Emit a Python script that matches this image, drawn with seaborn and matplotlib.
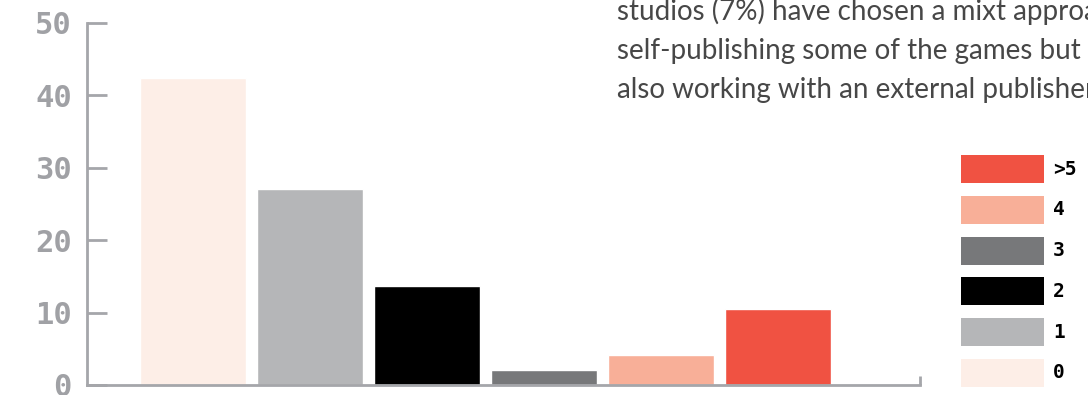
import matplotlib
matplotlib.use("Agg")
import matplotlib.pyplot as plt
import seaborn as sns
import pandas as pd
from matplotlib.patches import Rectangle

categories = ["0", "1", "2", "3", "4", ">5"]
values = [42.4, 27.1, 13.7, 2.1, 4.1, 10.5]
colors = ["#fdeee7", "#b5b6b8", "#000000", "#77787a", "#f8af98", "#f05242"]
yticks = [0, 10, 20, 30, 40, 50]
note_lines = [
    "studios (7%) have chosen a mixt approach,",
    "self-publishing some of the games but",
    "also working with an external publisher.",
]

sns.set_theme(style="white")
plt.rcParams["font.family"] = ["DejaVu Sans"]

W, H = 1088, 395
fig = plt.figure(figsize=(W/100, H/100), dpi=100)
ax = fig.add_axes([87/W, 10/H, (920-87)/W, (385-23)/H])

df = pd.DataFrame({"cat": categories, "val": values})
sns.barplot(data=df, x="cat", y="val", hue="cat", palette=colors,
            order=categories, hue_order=categories, legend=False,
            width=106/117, saturation=1, ax=ax)

ax.set_xlim(-0.906, 6.21)
ax.set_ylim(0, 50)
ax.set_xlabel("")
ax.set_ylabel("")
ax.set_xticks([])
ax.set_yticks(yticks)
ax.set_yticklabels([str(t) for t in yticks], family="DejaVu Sans Mono",
                   fontweight="bold", fontsize=22, color="#a0a1a5")
ax.tick_params(axis="y", direction="in", length=14.5, width=2, color="#a5a6aa",
               pad=11, left=True)
for s in ["top", "right"]:
    ax.spines[s].set_visible(False)
for s in ["left", "bottom"]:
    ax.spines[s].set_color("#a5a6aa")
    ax.spines[s].set_linewidth(2)
# right-end tick of x domain
ax.plot([1, 1], [0, 0.025], transform=ax.transAxes, color="#a5a6aa", lw=2,
        clip_on=False, solid_capstyle="butt")

# legend (top to bottom: reversed order)
top0 = 155
pitch = 40.8
for i, (c, lab) in enumerate(zip(colors[::-1], categories[::-1])):
    y_top = top0 + pitch * i
    fig.add_artist(Rectangle((961/W, 1 - (y_top + 28)/H), 83/W, 28/H,
                             transform=fig.transFigure, facecolor=c,
                             edgecolor="none"))
    fig.text(1053/W, 1 - (y_top + 14)/H, lab, family="DejaVu Sans Mono",
             fontweight="bold", fontsize=14, color="#000000",
             va="center", ha="left")

for i, line in enumerate(note_lines):
    fig.text(617/W, 1 - (20 + 39*i)/H, line, fontsize=20,
             family=["Source Sans Pro", "Lato", "DejaVu Sans"], color="#474747",
             va="baseline", ha="left")

fig.savefig("out.png", dpi=100)
